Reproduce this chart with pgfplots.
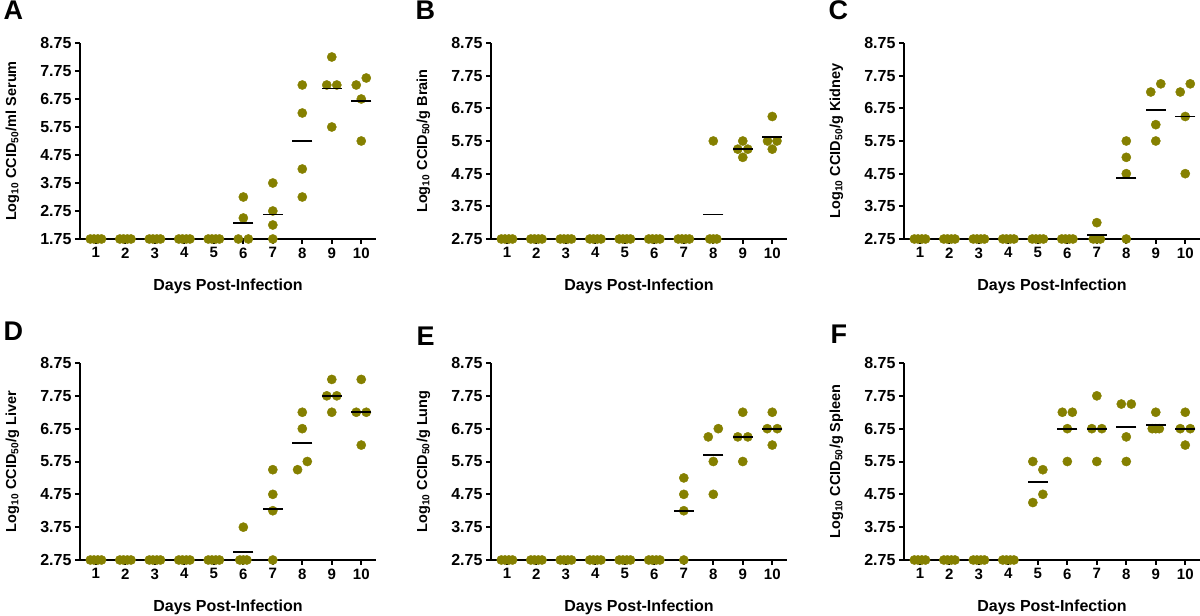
\documentclass[border=0pt]{standalone}
\usepackage{fontspec}
\setmainfont{Liberation Sans}
\usepackage{pgfplots}
\pgfplotsset{compat=1.18}
\definecolor{dotc}{RGB}{133,128,0}

\pgfplotsset{
  panel/.style={
    scale only axis, width=296pt, height=196pt,
    xmin=0.46, xmax=10.5, ymax=8.75,
    axis x line*=bottom, axis y line*=left,
    axis line style={line width=2.4pt, -},
    tick align=outside, major tick length=5pt,
    every tick/.style={black, line width=2pt},
    xtick={1,2,3,4,5,6,7,8,9,10},
    ytick={1.75,2.75,3.75,4.75,5.75,6.75,7.75,8.75},
    clip=false, axis on top,
    /pgf/number format/assume math mode=true,
    xticklabel style={font=\bfseries\fontsize{15}{15}\selectfont},
    yticklabel style={font=\bfseries\fontsize{16}{16}\selectfont,
      /pgf/number format/.cd, fixed, fixed zerofill, precision=2},
    xlabel={Days Post-Infection},
    every axis x label/.style={at={(axis description cs:0.5,0)}, anchor=base,
      yshift=-52pt, font=\bfseries\fontsize{16}{16}\selectfont},
    every axis y label/.style={at={(axis description cs:-0.228,0.5)}, rotate=90,
      anchor=center, font=\bfseries\fontsize{14.5}{14.5}\selectfont},
    title style={anchor=base west, font=\bfseries\fontsize{27}{27}\selectfont},
  },
  dots/.style={only marks, mark=*, color=dotc, mark size=4.6pt},
  means/.style={only marks, mark=-, mark size=10pt, mark options={line width=1.9pt, draw=black}},
}

\begin{document}
\begin{tikzpicture}
\useasboundingbox (0,0) rectangle (1200pt,616pt);

% A: serum
\begin{axis}[panel, at={(80pt,377pt)}, anchor=south west, ymin=1.75,
  title={A}, title style={at={(axis description cs:-0.270,1.087)}},
  ylabel={Log\textsubscript{10} CCID\textsubscript{50}/ml Serum}]
\addplot[dots] table {
x y
0.81 1.75
0.935 1.75
1.065 1.75
1.19 1.75
1.81 1.75
1.935 1.75
2.065 1.75
2.19 1.75
2.81 1.75
2.935 1.75
3.065 1.75
3.19 1.75
3.81 1.75
3.935 1.75
4.065 1.75
4.19 1.75
4.81 1.75
4.935 1.75
5.065 1.75
5.19 1.75
6 3.25
6 2.5
5.83 1.75
6.17 1.75
7 3.75
7 2.75
7 2.25
7 1.75
8 7.25
8 6.25
8 4.25
8 3.25
9 8.25
8.83 7.25
9.17 7.25
9 5.75
9.83 7.25
10.17 7.5
10 6.75
10 5.25
};
\addplot[means] table {
x y
6 2.3125
7 2.625
8 5.25
9 7.125
10 6.6875
};
\end{axis}

% B: brain
\begin{axis}[panel, at={(491pt,377pt)}, anchor=south west, ymin=2.75,
  title={B}, title style={at={(axis description cs:-0.267,1.087)}},
  ylabel={Log\textsubscript{10} CCID\textsubscript{50}/g Brain}]
\addplot[dots] table {
x y
0.81 2.75
0.935 2.75
1.065 2.75
1.19 2.75
1.81 2.75
1.935 2.75
2.065 2.75
2.19 2.75
2.81 2.75
2.935 2.75
3.065 2.75
3.19 2.75
3.81 2.75
3.935 2.75
4.065 2.75
4.19 2.75
4.81 2.75
4.935 2.75
5.065 2.75
5.19 2.75
5.81 2.75
5.935 2.75
6.065 2.75
6.19 2.75
6.81 2.75
6.935 2.75
7.065 2.75
7.19 2.75
8 5.75
7.88 2.75
8 2.75
8.12 2.75
9 5.75
8.83 5.5
9.17 5.5
9 5.25
10 6.5
9.84 5.75
10.16 5.75
10 5.5
};
\addplot[means] table {
x y
8 3.5
9 5.5
10 5.875
};
\end{axis}

% C: kidney
\begin{axis}[panel, at={(904pt,377pt)}, anchor=south west, ymin=2.75,
  title={C}, title style={at={(axis description cs:-0.267,1.087)}},
  ylabel={Log\textsubscript{10} CCID\textsubscript{50}/g Kidney}]
\addplot[dots] table {
x y
0.81 2.75
0.935 2.75
1.065 2.75
1.19 2.75
1.81 2.75
1.935 2.75
2.065 2.75
2.19 2.75
2.81 2.75
2.935 2.75
3.065 2.75
3.19 2.75
3.81 2.75
3.935 2.75
4.065 2.75
4.19 2.75
4.81 2.75
4.935 2.75
5.065 2.75
5.19 2.75
5.81 2.75
5.935 2.75
6.065 2.75
6.19 2.75
7 3.25
6.88 2.75
7 2.75
7.12 2.75
8 5.75
8 5.25
8 4.75
8 2.75
8.83 7.25
9.17 7.5
9 6.25
9 5.75
9.83 7.25
10.17 7.5
10 6.5
10 4.75
};
\addplot[means] table {
x y
7 2.875
8 4.625
9 6.6875
10 6.5
};
\end{axis}

% D: liver
\begin{axis}[panel, at={(80pt,56pt)}, anchor=south west, ymin=2.75, height=197pt,
  title={D}, title style={at={(axis description cs:-0.270,1.086)}},
  ylabel={Log\textsubscript{10} CCID\textsubscript{50}/g Liver}]
\addplot[dots] table {
x y
0.81 2.75
0.935 2.75
1.065 2.75
1.19 2.75
1.81 2.75
1.935 2.75
2.065 2.75
2.19 2.75
2.81 2.75
2.935 2.75
3.065 2.75
3.19 2.75
3.81 2.75
3.935 2.75
4.065 2.75
4.19 2.75
4.81 2.75
4.935 2.75
5.065 2.75
5.19 2.75
6 3.75
5.88 2.75
6 2.75
6.12 2.75
7 5.5
7 4.75
7 4.25
7 2.75
8 7.25
8 6.75
8.17 5.75
7.84 5.5
9 8.25
8.83 7.75
9.17 7.75
9 7.25
10 8.25
9.83 7.25
10.17 7.25
10 6.25
};
\addplot[means] table {
x y
6 3.0
7 4.3125
8 6.3125
9 7.75
10 7.25
};
\end{axis}

% E: lung
\begin{axis}[panel, at={(491pt,56pt)}, anchor=south west, ymin=2.75, height=197pt,
  title={E}, title style={at={(axis description cs:-0.2635,1.056)}},
  ylabel={Log\textsubscript{10} CCID\textsubscript{50}/g Lung}]
\addplot[dots] table {
x y
0.81 2.75
0.935 2.75
1.065 2.75
1.19 2.75
1.81 2.75
1.935 2.75
2.065 2.75
2.19 2.75
2.81 2.75
2.935 2.75
3.065 2.75
3.19 2.75
3.81 2.75
3.935 2.75
4.065 2.75
4.19 2.75
4.81 2.75
4.935 2.75
5.065 2.75
5.19 2.75
5.81 2.75
5.935 2.75
6.065 2.75
6.19 2.75
7 5.25
7 4.75
7 4.25
7 2.75
7.83 6.5
8.17 6.75
8 5.75
8 4.75
9 7.25
8.83 6.5
9.17 6.5
9 5.75
10 7.25
9.83 6.75
10.17 6.75
10 6.25
};
\addplot[means] table {
x y
7 4.25
8 5.9375
9 6.5
10 6.75
};
\end{axis}

% F: spleen
\begin{axis}[panel, at={(904pt,56pt)}, anchor=south west, ymin=2.75, height=197pt,
  title={F}, title style={at={(axis description cs:-0.260,1.071)}},
  ylabel={Log\textsubscript{10} CCID\textsubscript{50}/g Spleen}]
\addplot[dots] table {
x y
0.81 2.75
0.935 2.75
1.065 2.75
1.19 2.75
1.81 2.75
1.935 2.75
2.065 2.75
2.19 2.75
2.81 2.75
2.935 2.75
3.065 2.75
3.19 2.75
3.81 2.75
3.935 2.75
4.065 2.75
4.19 2.75
4.83 5.75
5.17 5.5
5.17 4.75
4.83 4.5
5.83 7.25
6.17 7.25
6 6.75
6 5.75
7 7.75
6.83 6.75
7.17 6.75
7 5.75
7.83 7.5
8.17 7.5
8 6.5
8 5.75
9 7.25
8.88 6.75
9 6.75
9.12 6.75
10 7.25
9.83 6.75
10.17 6.75
10 6.25
};
\addplot[means] table {
x y
5 5.125
6 6.75
7 6.75
8 6.8125
9 6.875
10 6.75
};
\end{axis}
\end{tikzpicture}
\end{document}
